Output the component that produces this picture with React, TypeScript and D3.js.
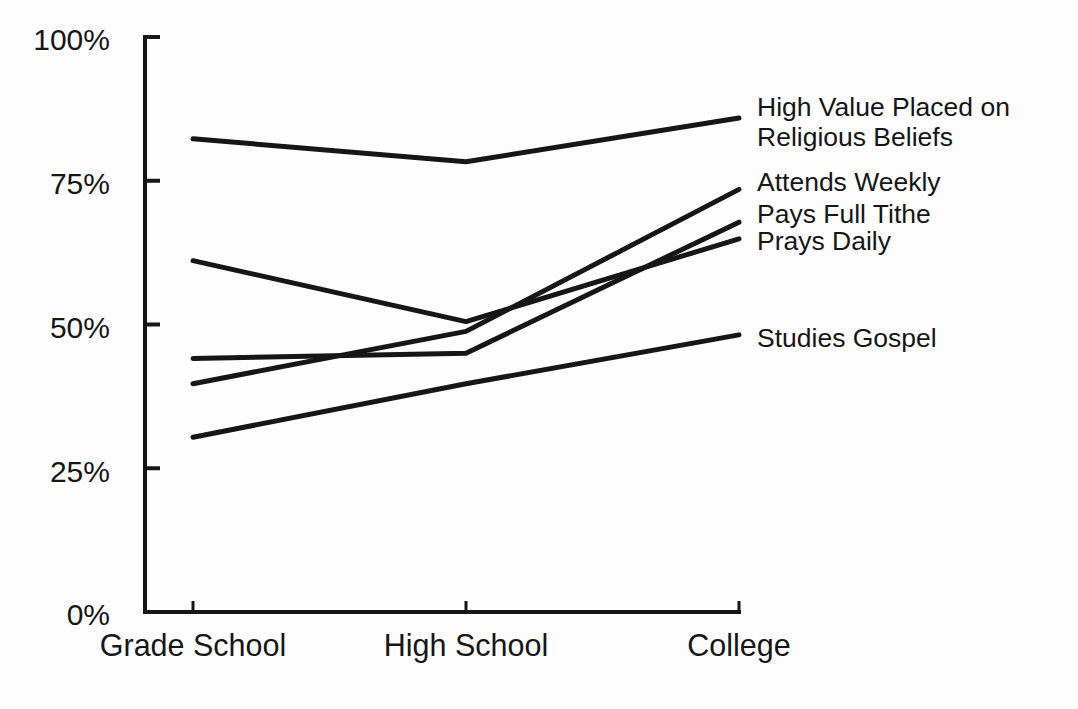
import React from "react";
import * as d3 from "d3";

const categories = ["Grade School", "High School", "College"];
const yTicks = [0, 25, 50, 75, 100];
const seriesNames = [
  "High Value Placed on Religious Beliefs",
  "Attends Weekly",
  "Pays Full Tithe",
  "Prays Daily",
  "Studies Gospel",
];
const highValue = [82.3, 78.3, 85.9];
const attendsWeekly = [39.7, 48.8, 73.5];
const paysFullTithe = [44.1, 45.0, 67.8];
const praysDaily = [61.1, 50.5, 64.9];
const studiesGospel = [30.4, 39.7, 48.2];
const labelLines = [
  ["High Value Placed on", "Religious Beliefs"],
  ["Attends Weekly"],
  ["Pays Full Tithe"],
  ["Prays Daily"],
  ["Studies Gospel"],
];

const W = 1078;
const H = 709;
const FONT = "'Liberation Sans', Arial, Helvetica, sans-serif";
const INK = "#161616";

export default function App() {
  const seriesValues = [highValue, attendsWeekly, paysFullTithe, praysDaily, studiesGospel];
  const x = d3.scalePoint<string>().domain(categories).range([193, 739]);
  const y = d3.scaleLinear().domain([0, 100]).range([612, 37]);
  const axisX = 145;
  const line = d3
    .line<number>()
    .x((_, i) => x(categories[i]) as number)
    .y((d) => y(d));

  // label vertical adjustments (px) relative to series end point
  const labelDy = [-12, -8, -9, 2, 3];
  const lineGap = 30;

  return (
    <div style={{ position: "absolute", left: 0, top: 0, width: W, height: H, background: "#fdfdfd" }}>
      <svg width={W} height={H} style={{ display: "block" }}>
        <rect x={0} y={0} width={W} height={H} fill="#fdfdfd" />
        {/* y axis */}
        <line x1={axisX} x2={axisX} y1={y(100) - 2} y2={y(0) + 2} stroke={INK} strokeWidth={4} />
        {yTicks.map((t) => (
          <g key={t}>
            {t > 0 && (
              <line x1={axisX} x2={axisX + 15} y1={y(t)} y2={y(t)} stroke={INK} strokeWidth={4} />
            )}
            <text
              x={110}
              y={y(t) + 2}
              dy="0.38em"
              textAnchor="end"
              fontFamily={FONT}
              fontSize={30}
              fill={INK}
            >
              {t}%
            </text>
          </g>
        ))}
        {/* x axis */}
        <line x1={axisX - 2} x2={(x("College") as number) + 2} y1={y(0)} y2={y(0)} stroke={INK} strokeWidth={4} />
        {categories.map((c) => (
          <g key={c}>
            <line
              x1={x(c) as number}
              x2={x(c) as number}
              y1={y(0)}
              y2={y(0) - 11}
              stroke={INK}
              strokeWidth={3}
            />
            <text
              x={x(c) as number}
              y={656}
              textAnchor="middle"
              fontFamily={FONT}
              fontSize={30.5}
              fill={INK}
            >
              {c}
            </text>
          </g>
        ))}
        {/* series lines */}
        {seriesValues.map((vals, i) => (
          <path
            key={seriesNames[i]}
            d={line(vals) as string}
            fill="none"
            stroke={INK}
            strokeWidth={5}
            strokeLinecap="round"
            strokeLinejoin="round"
          />
        ))}
        {/* labels */}
        {seriesValues.map((vals, i) => {
          const yEnd = y(vals[vals.length - 1]) + labelDy[i];
          return (
            <text
              key={"l" + i}
              x={757}
              y={yEnd}
              fontFamily={FONT}
              fontSize={26.5}
              fill={INK}
            >
              {labelLines[i].map((ln, j) => (
                <tspan key={j} x={757} y={yEnd + j * lineGap} dy="0.36em">
                  {ln}
                </tspan>
              ))}
            </text>
          );
        })}
      </svg>
    </div>
  );
}
